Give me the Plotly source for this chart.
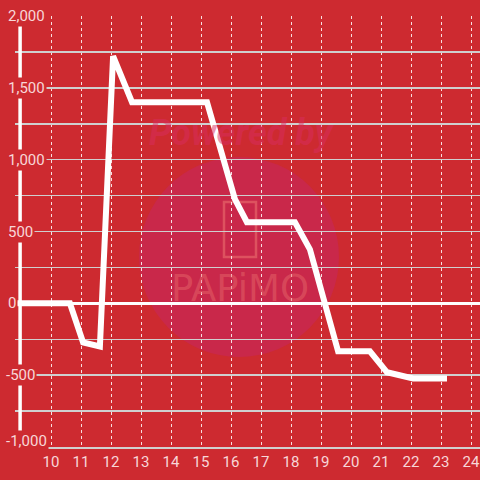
import plotly.graph_objects as go

# data
hours = [8.87, 10.63, 11.07, 11.63, 12.07, 12.7, 15.2, 16.13, 16.53, 18.13, 18.63, 19.57, 20.63, 21.2, 22.07, 23.2]
values = [0, 0, -272, -300, 1720, 1400, 1400, 725, 565, 565, 376, -334, -334, -480, -523, -523]
x_ticks = list(range(10, 25))
y_label_vals = [2000, 1500, 1000, 500, 0, -500, -1000]
y_labels = [f"{v:,}" for v in y_label_vals]

BG = "#CD2A30"
TXT = "rgba(255,240,240,0.88)"
FONT = "Roboto"

W, H = 480, 480
ML, MR, MT, MB = 15, 0, 16, 33
PW, PH = W - ML - MR, H - MT - MB

def px(xp):
    return (xp - ML) / PW

def py(yp):
    return (H - MB - yp) / PH

fig = go.Figure()
fig.add_trace(go.Scatter(
    x=hours, y=values, mode="lines",
    line=dict(color="white", width=6),
    hoverinfo="skip", showlegend=False,
))

shapes = [
    # watermark circle
    dict(type="circle", xref="paper", yref="paper", layer="below",
         x0=px(139), x1=px(339), y0=py(157), y1=py(357),
         fillcolor="#C9284A", line=dict(width=0)),
    # phone icon
    dict(type="rect", xref="paper", yref="paper", layer="below",
         x0=px(224), x1=px(256), y0=py(202), y1=py(257),
         line=dict(color="rgba(235,110,110,0.6)", width=2.5)),
    # y axis line
    dict(type="line", xref="x", yref="paper", layer="above",
         x0=8.97, x1=8.97, y0=py(435), y1=py(24),
         line=dict(color="white", width=3.5)),
]

annotations = [
    dict(text="<i><b>Powered by</b></i>", xref="paper", yref="paper", x=px(242), y=py(133),
         showarrow=False, font=dict(family="Roboto", size=36, color="rgba(215,45,95,0.5)"),
         xanchor="center", yanchor="middle"),
    dict(text="PAPiMO", xref="paper", yref="paper", x=px(240), y=py(288),
         showarrow=False, font=dict(family="DejaVu Sans", size=37, color="rgba(235,110,110,0.45)"),
         xanchor="center", yanchor="middle"),
]
for v, lab in zip(y_label_vals, y_labels):
    annotations.append(dict(
        text=lab, xref="paper", yref="y", x=px(4 if v < 0 else 6), y=v, xanchor="left", yanchor="middle",
        yshift=6 if v == y_label_vals[-1] else 0,
        showarrow=False, bgcolor=BG, borderpad=1,
        font=dict(family=FONT, size=15, color=TXT),
    ))

fig.update_layout(
    width=W, height=H,
    margin=dict(l=ML, r=MR, t=MT, b=MB),
    paper_bgcolor=BG, plot_bgcolor=BG,
    shapes=shapes, annotations=annotations,
    xaxis=dict(range=[8.8, 24.3], tickvals=x_ticks, ticktext=[str(t) for t in x_ticks],
               showgrid=True, gridcolor="rgba(255,255,255,0.85)", griddash="dot", gridwidth=1,
               zeroline=False, showline=True, linecolor="#d0d0d0", linewidth=1.5,
               ticks="", tickfont=dict(family=FONT, size=15, color=TXT), fixedrange=True),
    yaxis=dict(range=[-1000, 2000], dtick=250, showticklabels=False,
               showgrid=True, gridcolor="#cfcfcf", gridwidth=1.5,
               zeroline=True, zerolinecolor="white", zerolinewidth=3,
               showline=False, ticks="", fixedrange=True),
)

fig.write_html("out.html", config={"displayModeBar": False, "staticPlot": True},
               post_script="document.body.style.margin='0';document.body.style.background='" + BG + "';")
